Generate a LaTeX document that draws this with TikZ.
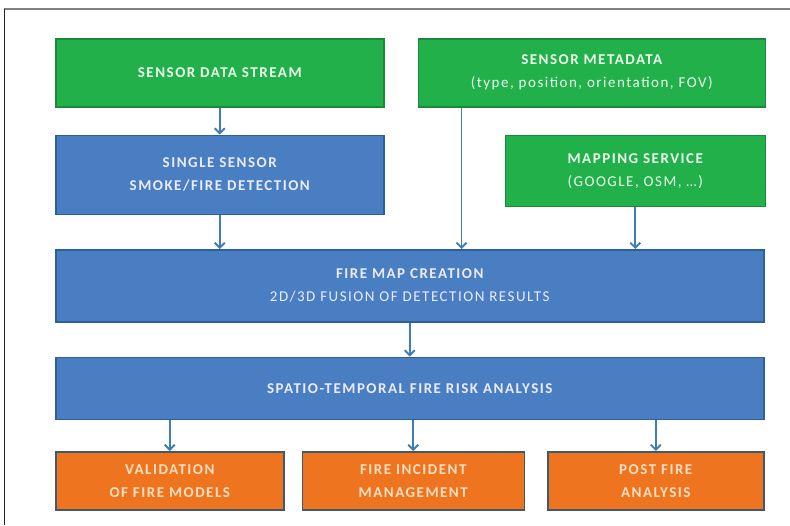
\documentclass[tikz,border=0pt]{standalone}
\usepackage{fontspec}
\setmainfont{Carlito}[LetterSpace=10]
\usetikzlibrary{
	positioning,
	arrows.meta
}
\definecolor{boxgreen}{HTML}{22B04B}
\definecolor{edgegreen}{HTML}{188A3A}
\definecolor{boxblue}{HTML}{4A7EC2}
\definecolor{edgeblue}{HTML}{2F5F97}
\definecolor{boxorange}{HTML}{EE7420}
\definecolor{edgeorange}{HTML}{3F5A6A}
\definecolor{flowblue}{HTML}{3E7DB5}

\begin{document}
\begin{tikzpicture}[
	x=1pt, y=1pt,
	node distance =0pt,
	block/.style = {
		rectangle,
		draw,
		line width=1.5pt,
		inner sep=0pt,
		align=center,
		font=\fontsize{15}{23}\selectfont
	},
	source/.style = {block, fill=boxgreen, draw=edgegreen, text=white!92!green},
	process/.style = {block, fill=boxblue, draw=edgeblue, text=white!92!blue},
	result/.style = {block, fill=boxorange, draw=edgeorange, text=white!75!orange, font=\fontsize{15}{23}\selectfont\bfseries},
	flow/.style = {draw=flowblue, line width=1.8pt, -{Straight Barb[length=5pt,width=10pt]}},
]
	\useasboundingbox (0,0) rectangle (790,-525);
	\draw[gray, line width=2pt] (4,-8.5) -- (790,-8.5);
	\draw[black!85, line width=1.5pt] (4.5,-8.5) -- (4.5,-525);

	\node (stream) [source, anchor=north west, minimum width=328pt, minimum height=68pt] at (55,-38) {\bfseries SENSOR DATA STREAM};
	\node (meta) [source, right=33pt of stream, minimum width=347pt, minimum height=68pt] {{\bfseries SENSOR METADATA}\\(type, position, orientation, FOV)};

	\node (single) [process, below=27pt of stream, minimum width=328pt, minimum height=79pt] {\bfseries SINGLE SENSOR\\\bfseries SMOKE/FIRE DETECTION};
	\node (mapping) [source, below=27pt of meta.south east, anchor=north east, minimum width=260pt, minimum height=71pt] {{\bfseries MAPPING SERVICE}\\(GOOGLE, OSM, \dots)};

	\node (firemap) [process, below=34pt of single.south west, anchor=north west, minimum width=708pt, minimum height=72pt] {{\bfseries FIRE MAP CREATION}\\2D/3D FUSION OF DETECTION RESULTS};
	\node (risk) [process, below=34pt of firemap, minimum width=708pt, minimum height=62pt] {\bfseries SPATIO-TEMPORAL FIRE RISK ANALYSIS};

	\node (validation) [result, below=31pt of risk.south west, anchor=north west, minimum width=228pt, minimum height=58pt] {VALIDATION\\OF FIRE MODELS};
	\node (incident) [result, right=17pt of validation, minimum width=222pt, minimum height=58pt] {FIRE INCIDENT\\MANAGEMENT};
	\node (postfire) [result, below=31pt of risk.south east, anchor=north east, minimum width=216pt, minimum height=58pt] {POST FIRE\\ANALYSIS};

	\draw[flow] (stream) -- (single);
	\draw[flow] (single) -- (single |- firemap.north);
	\draw[flow] ([xshift=44pt]meta.south west) -- ([xshift=44pt]meta.south west |- firemap.north);
	\draw[flow] (mapping) -- (mapping |- firemap.north);
	\draw[flow] (firemap) -- (risk);

	\draw[flow] (validation |- risk.south) -- (validation);
	\draw[flow] (incident |- risk.south) -- (incident);
	\draw[flow] (postfire |- risk.south) -- (postfire);
\end{tikzpicture}
\end{document}
